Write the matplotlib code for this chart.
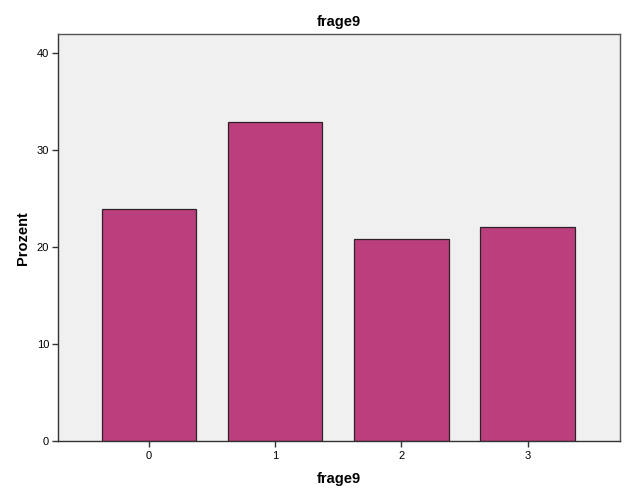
import numpy as np
import matplotlib.pyplot as plt

plt.rcParams['font.family'] = ['Liberation Sans', 'DejaVu Sans']

categories = ['0', '1', '2', '3']
percent = [24.0, 32.9, 20.9, 22.1]
y_ticks = [0, 10, 20, 30, 40]

fig = plt.figure(figsize=(6.26, 5.01), dpi=100)
ax = fig.add_axes([0.0927, 0.1188, 0.8973, 0.8135])
ax.set_facecolor('#f0f0f0')

x = np.arange(len(categories))
ax.bar(x, percent, width=0.75, color='#bb3f7d', edgecolor='#2e2228', linewidth=0.9)

ax.set_xlim(-0.72, 3.73)
ax.set_ylim(0, 42)
ax.set_xticks(x)
ax.set_xticklabels(categories)
ax.set_yticks(y_ticks)
ax.tick_params(axis='both', labelsize=8, length=4.5, width=1, color='#333333', pad=2)

for s in ax.spines.values():
    s.set_color('#555555')
    s.set_linewidth(1)
ax.spines['left'].set_color('#333333')
ax.spines['bottom'].set_color('#333333')

ax.set_title('frage9', fontsize=10.5, fontweight='bold', pad=6)
ax.set_xlabel('frage9', fontsize=10.5, fontweight='bold', labelpad=8)
ax.set_ylabel('Prozent', fontsize=10.5, fontweight='bold', labelpad=4.5)

fig.savefig('out.png', dpi=100)
